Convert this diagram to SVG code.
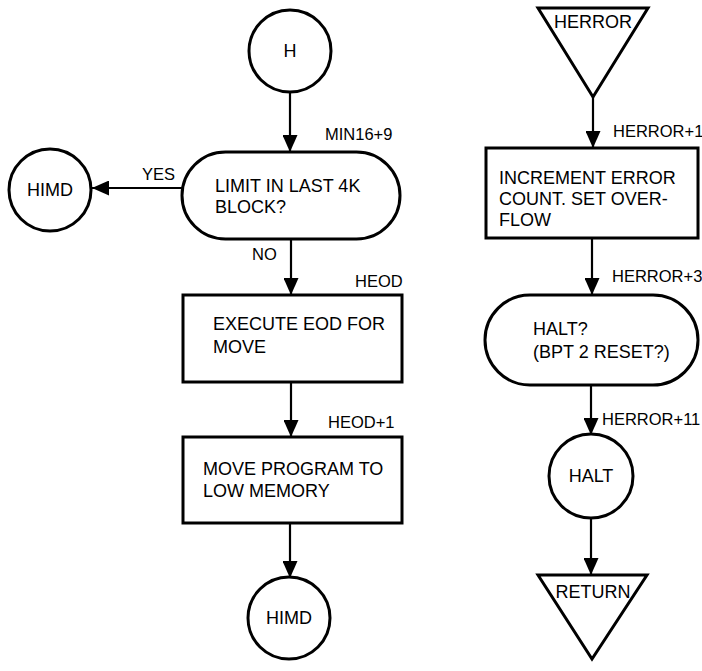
<svg xmlns="http://www.w3.org/2000/svg" width="702" height="671" viewBox="0 0 702 671">
<style>
.s{fill:#fff;stroke:#000;stroke-width:3}
.c{fill:none;stroke:#000;stroke-width:2.2}
.t{font-family:"Liberation Sans",Arial,sans-serif;font-size:18px;fill:#000}
.m{text-anchor:middle}
.l{font-family:"Liberation Sans",Arial,sans-serif;font-size:16.5px;fill:#000}
</style>
<defs>
<marker id="ah" markerUnits="userSpaceOnUse" markerWidth="17" markerHeight="15" refX="17" refY="7.5" orient="auto">
<path d="M0,0 L17,7.5 L0,15 z" fill="#000"/>
</marker>
</defs>
<rect width="702" height="671" fill="#fff"/>
<g id="connectors">
<line class="c" x1="290" y1="92" x2="290" y2="152" marker-end="url(#ah)"/>
<line class="c" x1="182" y1="188" x2="92" y2="188" marker-end="url(#ah)"/>
<line class="c" x1="291" y1="239" x2="291" y2="295" marker-end="url(#ah)"/>
<line class="c" x1="291" y1="382" x2="291" y2="437" marker-end="url(#ah)"/>
<line class="c" x1="290" y1="523" x2="290" y2="578" marker-end="url(#ah)"/>
<line class="c" x1="593" y1="97" x2="593" y2="148" marker-end="url(#ah)"/>
<line class="c" x1="592" y1="238" x2="592" y2="295" marker-end="url(#ah)"/>
<line class="c" x1="591" y1="385" x2="591" y2="435" marker-end="url(#ah)"/>
<line class="c" x1="591" y1="518" x2="591" y2="575" marker-end="url(#ah)"/>
<text class="l" x="325" y="140">MIN16+9</text>
<text class="l" x="142" y="180">YES</text>
<text class="l" x="252" y="260">NO</text>
<text class="l" x="355" y="287">HEOD</text>
<text class="l" x="328" y="428">HEOD+1</text>
<text class="l" x="613" y="137">HERROR+1</text>
<text class="l" x="612" y="282">HERROR+3</text>
<text class="l" x="602" y="425">HERROR+11</text>
</g>
<g id="H">
<circle class="s" cx="290" cy="51" r="41"/>
<text class="t m" x="290" y="57">H</text>
</g>
<g id="limit">
<rect class="s" x="182" y="152" width="218" height="87" rx="43.5"/>
<text class="t" x="215" y="192">LIMIT IN LAST 4K</text>
<text class="t" x="215" y="213">BLOCK?</text>
</g>
<g id="himd1">
<circle class="s" cx="50" cy="190" r="41"/>
<text class="t m" x="50" y="196">HIMD</text>
</g>
<g id="eod">
<rect class="s" x="183" y="295" width="219" height="87"/>
<text class="t" x="213" y="330">EXECUTE EOD FOR</text>
<text class="t" x="213" y="353">MOVE</text>
</g>
<g id="move">
<rect class="s" x="183" y="437" width="219" height="86"/>
<text class="t" x="203" y="475">MOVE PROGRAM TO</text>
<text class="t" x="203" y="497">LOW MEMORY</text>
</g>
<g id="himd2">
<circle class="s" cx="289" cy="618" r="41"/>
<text class="t m" x="289" y="624">HIMD</text>
</g>
<g id="herror">
<polygon class="s" points="538,8 648,8 593,97"/>
<text class="t m" x="593" y="28">HERROR</text>
</g>
<g id="increment">
<rect class="s" x="486" y="148" width="212" height="90"/>
<text class="t" x="499" y="184">INCREMENT ERROR</text>
<text class="t" x="499" y="205">COUNT. SET OVER-</text>
<text class="t" x="499" y="226">FLOW</text>
</g>
<g id="halt-q">
<rect class="s" x="485" y="295" width="213" height="90" rx="45"/>
<text class="t" x="533" y="335">HALT?</text>
<text class="t" x="533" y="358">(BPT 2 RESET?)</text>
</g>
<g id="halt">
<circle class="s" cx="591" cy="476" r="42"/>
<text class="t m" x="591" y="482">HALT</text>
</g>
<g id="return">
<polygon class="s" points="538,575 647,575 592,659"/>
<text class="t m" x="593" y="598">RETURN</text>
</g>
</svg>
